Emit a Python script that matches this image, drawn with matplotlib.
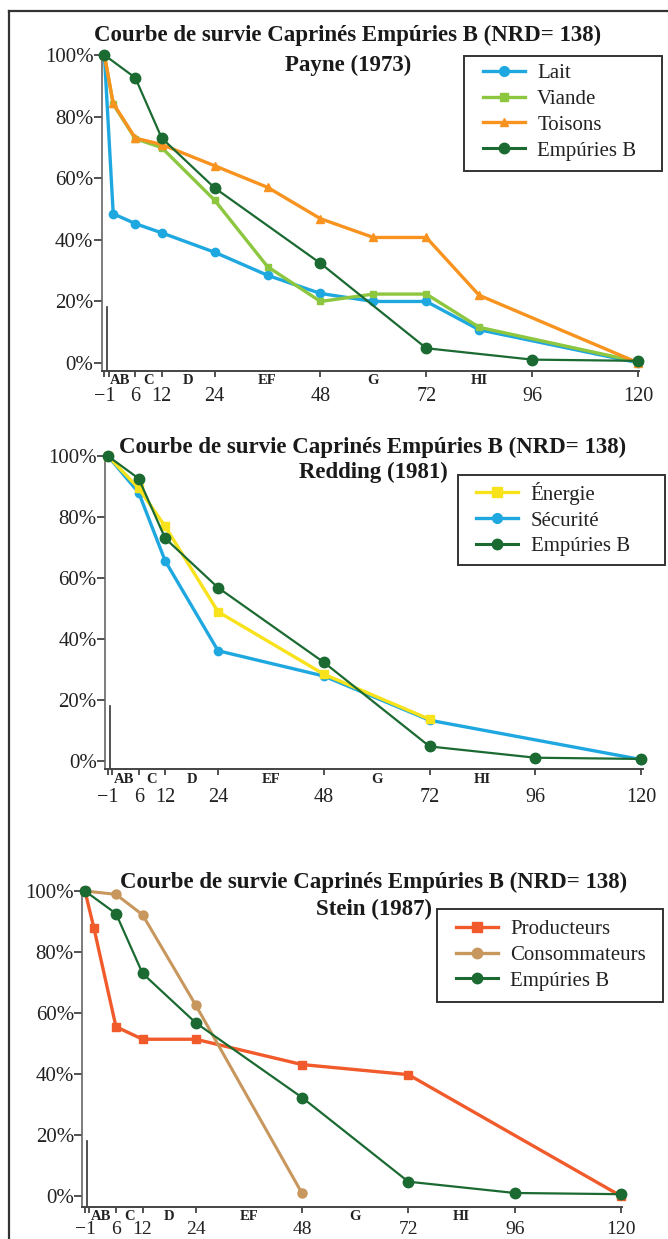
import matplotlib
matplotlib.use("Agg")
import matplotlib.pyplot as plt
from matplotlib.lines import Line2D
from matplotlib.patches import Rectangle
from matplotlib.ticker import FixedLocator, FixedFormatter

plt.rcParams['font.family'] = ['Liberation Serif', 'DejaVu Serif']

# ---------------- data ----------------
# Payne (1973)
payne_x = [-1, 1, 6, 12, 24, 36, 48, 60, 72, 84, 120]
lait = [100, 48.4, 45.2, 42.2, 35.9, 28.4, 22.5, 19.9, 19.9, 10.7, 0]
viande = [100, 84, 72.8, 69.9, 52.8, 31.2, 19.9, 22.3, 22.3, 11.5, 0.3]
toisons = [100, 84.3, 73, 70.9, 64.0, 57, 46.8, 40.7, 40.7, 21.9, 0]
# Empúries B
emp_x = [-1, 6, 12, 24, 48, 72, 96, 120]
empuries = [100, 92.6, 73, 56.8, 32.3, 4.7, 1.0, 0.6]
# Redding (1981)
securite_x = [-1, 6, 12, 24, 48, 72, 120]
securite = [100, 88, 65.6, 36.1, 27.8, 13.3, 0.4]
energie_x = [-1, 6, 12, 24, 48, 72]
energie = [100, 89.4, 76.9, 48.9, 28.4, 13.6]
# Stein (1987)
prod_x = [-1, 1, 6, 12, 24, 48, 72, 120]
producteurs = [100, 88, 55.5, 51.4, 51.4, 43.1, 39.8, 0]
cons_x = [-1, 6, 12, 24, 48]
consommateurs = [100, 98.9, 92.2, 62.6, 0.9]

xticks = [-1, 0, 6, 12, 24, 48, 72, 96, 120]
xticklabels = ['\u22121', '', '6', '12', '24', '48', '72', '96', '120']
yticks = [0, 20, 40, 60, 80, 100]
yticklabels = ['0%', '20%', '40%', '60%', '80%', '100%']
stages = ['AB', 'C', 'D', 'EF', 'G', 'HI']
stage_x = [2.6, 9, 18, 36, 60, 84]

title1 = 'Courbe de survie Caprinés Empúries B (NRD= 138)'

# ---------------- colours ----------------
C_LAIT = '#1fa8e0'
C_VIANDE = '#8dc63f'
C_TOIS = '#f7931e'
C_EMP = '#1b6a32'
C_ENER = '#f7e21b'
C_PROD = '#f15a2a'
C_CONS = '#c8975e'

W, H = 668, 1239
fig = plt.figure(figsize=(W / 100, H / 100), dpi=100)
fig.patch.set_facecolor('white')


def make_axes(left, right, top, bottom, ybot, numpad, numsize=14.5):
    ax = fig.add_axes([left / W, 1 - bottom / H, (right - left) / W, (bottom - top) / H])
    ax.set_xlim(-1.6, 120.3)
    ax.set_ylim(ybot, 100)
    ax.set_facecolor('none')
    for s in ['top', 'right']:
        ax.spines[s].set_visible(False)
    ax.spines['left'].set_color('#666666')
    ax.spines['left'].set_linewidth(1.2)
    ax.spines['left'].set_bounds(ybot, 100)
    ax.spines['bottom'].set_color('#444444')
    ax.spines['bottom'].set_linewidth(1.4)
    ax.xaxis.set_major_locator(FixedLocator(xticks))
    ax.xaxis.set_major_formatter(FixedFormatter(xticklabels))
    ax.yaxis.set_major_locator(FixedLocator(yticks))
    ax.yaxis.set_major_formatter(FixedFormatter(yticklabels))
    ax.tick_params(axis='x', direction='out', length=4.5, width=1.2, color='#333333',
                   labelsize=numsize, pad=numpad, labelcolor='#222222')
    ax.tick_params(axis='y', direction='out', length=5.5, width=1.2, color='#333333',
                   labelsize=15, pad=0.5, labelcolor='#222222')
    # short inner vertical stroke near origin
    ax.axvline(-0.5, ymin=0, ymax=(18 - ybot) / (100 - ybot), color='#333333', lw=1.2)
    for lab, sx in zip(stages, stage_x):
        ax.annotate(lab, xy=(sx, 0), xycoords=('data', 'axes fraction'),
                    xytext=(0, -7), textcoords='offset points',
                    ha='center', va='center', fontsize=10.5, fontweight='bold',
                    color='#222222')
    return ax


def add_title(cx, y1, y2, sub):
    fig.text(cx / W, 1 - y1 / H, title1, ha='center', va='baseline',
             fontsize=16.5, fontweight='bold', color='#1a1a1a')
    fig.text(cx / W, 1 - y2 / H, sub, ha='center', va='baseline',
             fontsize=16.5, fontweight='bold', color='#1a1a1a')


def add_legend(ax, handles, labels, box, hx, cy):
    x0, y0, x1, y1 = box
    fig.patches.append(Rectangle((x0 / W, 1 - y1 / H), (x1 - x0) / W, (y1 - y0) / H,
                                 transform=fig.transFigure, fill=False,
                                 edgecolor='#333333', lw=1.4, zorder=5))
    leg = ax.legend(handles, labels, loc='center left', bbox_to_anchor=(hx / W, 1 - cy / H),
                    bbox_transform=fig.transFigure, frameon=False, fontsize=15,
                    borderpad=0, borderaxespad=0, handlelength=2.0,
                    handletextpad=0.6, labelspacing=0.3)
    for t in leg.get_texts():
        t.set_color('#222222')
    return leg


def h(color, marker, ms, lw):
    return Line2D([], [], color=color, marker=marker, markersize=ms, lw=lw)


# ---------------- chart 1 : Payne ----------------
ax1 = make_axes(101.75, 639.3, 55, 370.7, -2.6, 7.5)
ax1.plot(payne_x, lait, color=C_LAIT, marker='o', ms=6, lw=2.4, clip_on=False, zorder=3)
ax1.plot(payne_x, viande, color=C_VIANDE, marker='s', ms=5, lw=2.4, clip_on=False, zorder=4)
ax1.plot(payne_x, toisons, color=C_TOIS, marker='^', ms=5.5, lw=2.4, clip_on=False, zorder=5)
ax1.plot(emp_x, empuries, color=C_EMP, marker='o', ms=7.5, lw=1.6, clip_on=False, zorder=6)
add_title(348, 41.5, 71.5, 'Payne (1973)')
add_legend(ax1,
           [h(C_LAIT, 'o', 7, 2.4), h(C_VIANDE, 's', 6, 2.4), h(C_TOIS, '^', 6, 2.4),
            h(C_EMP, 'o', 7.5, 2.2)],
           ['Lait', 'Viande', 'Toisons', 'Empúries B'],
           (464, 56, 662, 171), 483, 112)

# ---------------- chart 2 : Redding ----------------
ax2 = make_axes(105.2, 642.5, 456, 769.3, -2.8, 9)
ax2.plot(securite_x, securite, color=C_LAIT, marker='o', ms=6, lw=2.4, clip_on=False, zorder=3)
ax2.plot(energie_x, energie, color=C_ENER, marker='s', ms=6, lw=2.4, clip_on=False, zorder=4)
ax2.plot(emp_x, empuries, color=C_EMP, marker='o', ms=7.5, lw=1.6, clip_on=False, zorder=6)
add_title(373, 453.3, 478.3, 'Redding (1981)')
add_legend(ax2,
           [h(C_ENER, 's', 7, 2.4), h(C_LAIT, 'o', 7, 2.4), h(C_EMP, 'o', 7.5, 2.2)],
           ['Énergie', 'Sécurité', 'Empúries B'],
           (458, 475, 664.7, 565), 476.5, 519)

# ---------------- chart 3 : Stein ----------------
ax3 = make_axes(82.3, 622.3, 891, 1206.7, -3.5, 5.5, numsize=14)
ax3.plot(prod_x, producteurs, color=C_PROD, marker='s', ms=6, lw=2.4, clip_on=False, zorder=3)
ax3.plot(cons_x, consommateurs, color=C_CONS, marker='o', ms=6.5, lw=2.2, clip_on=False, zorder=4)
ax3.plot(emp_x, empuries, color=C_EMP, marker='o', ms=7.5, lw=1.6, clip_on=False, zorder=6)
add_title(374, 888.3, 915, 'Stein (1987)')
add_legend(ax3,
           [h(C_PROD, 's', 7, 2.4), h(C_CONS, 'o', 7.5, 2.4), h(C_EMP, 'o', 7.5, 2.2)],
           ['Producteurs', 'Consommateurs', 'Empúries B'],
           (436.7, 909.3, 662.5, 1001.7), 456, 955)

# ---------------- outer frame (left and top edges) ----------------
fig.lines.append(Line2D([9 / W, 9 / W], [0, 1 - 11 / H], transform=fig.transFigure,
                        color='#333333', lw=1.6))
fig.lines.append(Line2D([9 / W, 1], [1 - 11 / H, 1 - 11 / H], transform=fig.transFigure,
                        color='#333333', lw=1.6))

fig.savefig('out.png', dpi=100, facecolor='white')
